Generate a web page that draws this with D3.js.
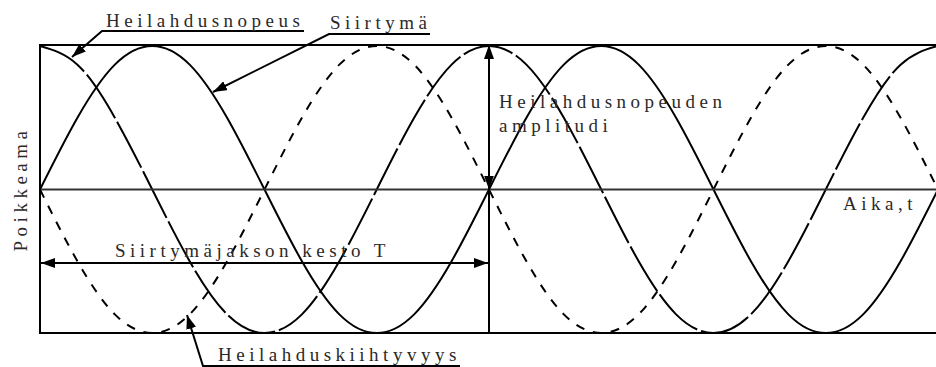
<!DOCTYPE html>
<html>
<head>
<meta charset="utf-8">
<script src="https://cdn.jsdelivr.net/npm/d3@7"></script>
<style>
  body { margin: 0; background: #fff; }
  text { font-family: "Liberation Serif", "Times New Roman", serif; font-size: 19px; fill: #2a2a2a; letter-spacing: 4.5px; }
</style>
</head>
<body>
<script>
// time in periods, sampled every T/12 over two periods
var time = d3.range(25).map(function(i){ return i / 12; });

// values (relative to amplitude)
var siirtyma = [0, .5, .87, 1, .87, .5, 0, -.5, -.87, -1, -.87, -.5,
                0, .5, .87, 1, .87, .5, 0, -.5, -.87, -1, -.87, -.5, 0];
var nopeus   = [1, .87, .5, 0, -.5, -.87, -1, -.87, -.5, 0, .5, .87,
                1, .87, .5, 0, -.5, -.87, -1, -.87, -.5, 0, .5, .87, 1];
var kiihtyvyys = [0, -.5, -.87, -1, -.87, -.5, 0, .5, .87, 1, .87, .5,
                  0, -.5, -.87, -1, -.87, -.5, 0, .5, .87, 1, .87, .5, 0];

//set up the figure
var width = 936,
    height = 367;

var svg = d3.select("body")
    .append("svg")
    .attr("width", width)
    .attr("height", height);

var x = d3.scaleLinear().domain([0, 2]).range([40, 938]);
var y = d3.scaleLinear().domain([-1, 1]).range([333, 46]);

// arrow marker
var defs = svg.append("defs");
defs.append("marker")
    .attr("id", "arrow")
    .attr("viewBox", "0 0 14 10")
    .attr("refX", 14)
    .attr("refY", 5)
    .attr("markerWidth", 14)
    .attr("markerHeight", 10)
    .attr("markerUnits", "userSpaceOnUse")
    .attr("orient", "auto-start-reverse")
    .append("path")
    .attr("d", "M0,0 L14,5 L0,10 z")
    .attr("fill", "#000");

// curves
var line = d3.line()
    .x(function(d, i){ return x(time[i]); })
    .y(function(d){ return y(d); })
    .curve(d3.curveNatural);

var series = [
    {values: siirtyma, dash: null},
    {values: nopeus, dash: "52,4"},
    {values: kiihtyvyys, dash: "9,9"}
];

svg.selectAll(".curve")
    .data(series)
    .enter()
    .append("path")
    .attr("class", "curve")
    .attr("d", function(d){ return line(d.values); })
    .attr("fill", "none")
    .attr("stroke", "#000")
    .attr("stroke-width", 2)
    .attr("stroke-dasharray", function(d){ return d.dash; });

// zero line (time axis)
svg.append("line")
    .attr("x1", x(0)).attr("x2", x(2))
    .attr("y1", y(0)).attr("y2", y(0))
    .attr("stroke", "#333")
    .attr("stroke-width", 2);

// frame
svg.append("rect")
    .attr("x", x(0)).attr("y", y(1) - 1)
    .attr("width", x(2) - x(0))
    .attr("height", y(-1) - y(1) + 1)
    .attr("fill", "none")
    .attr("stroke", "#000")
    .attr("stroke-width", 2);

// vertical line at end of first period, lower half
svg.append("line")
    .attr("x1", x(1)).attr("x2", x(1))
    .attr("y1", y(0)).attr("y2", y(-1))
    .attr("stroke", "#000")
    .attr("stroke-width", 2);

// amplitude arrow
svg.append("line")
    .attr("x1", x(1)).attr("x2", x(1))
    .attr("y1", y(0)).attr("y2", y(1) - 1)
    .attr("stroke", "#000")
    .attr("stroke-width", 2)
    .attr("marker-start", "url(#arrow)")
    .attr("marker-end", "url(#arrow)");

// period arrow
svg.append("line")
    .attr("x1", x(0) + 1).attr("x2", x(1) - 1)
    .attr("y1", 263).attr("y2", 263)
    .attr("stroke", "#000")
    .attr("stroke-width", 2)
    .attr("marker-start", "url(#arrow)")
    .attr("marker-end", "url(#arrow)");

// leader lines for labels
function leader(pts){
    svg.append("polyline")
        .attr("points", pts.map(function(p){ return p.join(","); }).join(" "))
        .attr("fill", "none")
        .attr("stroke", "#000")
        .attr("stroke-width", 2)
        .attr("marker-end", "url(#arrow)");
}
leader([[304, 31], [102, 31], [72, 57]]);
leader([[430, 34], [329, 34], [213, 92]]);
leader([[460, 366], [203, 366], [187, 315]]);

// texts
function label(txt, tx, ty){
    return svg.append("text").attr("x", tx).attr("y", ty).text(txt);
}
label("Heilahdusnopeus", 106, 27);
label("Siirtymä", 330, 29);
label("Heilahdusnopeuden", 499, 108);
label("amplitudi", 499, 132);
label("Aika,t", 843, 210);
label("Siirtymäjakson kesto T", 115, 257);
label("Heilahduskiihtyvyys", 218, 361);

svg.append("text")
    .attr("transform", "translate(27,189) rotate(-90)")
    .attr("text-anchor", "middle")
    .text("Poikkeama");
</script>
</body>
</html>
